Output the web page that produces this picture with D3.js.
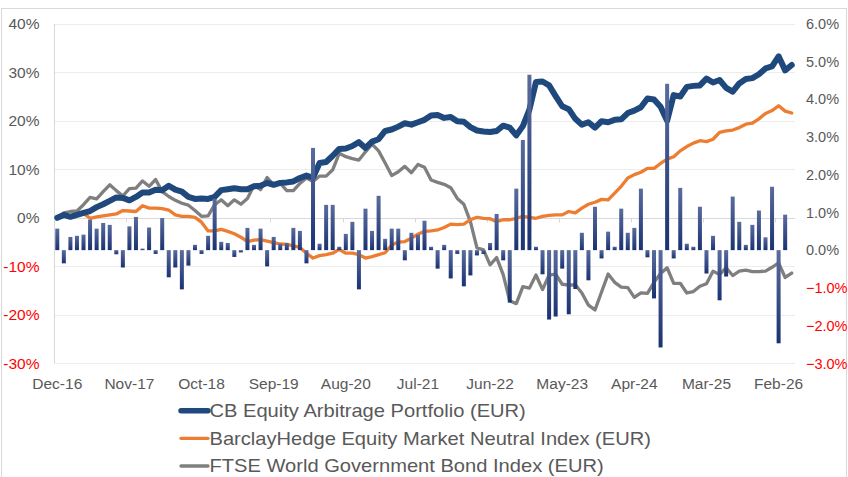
<!DOCTYPE html>
<html><head><meta charset="utf-8">
<script src="https://cdn.jsdelivr.net/npm/d3@7"></script>
<style>body{margin:0;background:#fff}svg{display:block}text{font-family:"Liberation Sans",Arial,sans-serif}</style>
</head><body><svg id="c" width="848" height="477"></svg>
<script>
const tickLabels = ["Dec-16","Nov-17","Oct-18","Sep-19","Aug-20","Jul-21","Jun-22","May-23","Apr-24","Mar-25","Feb-26"];
const leftTicks = [40,30,20,10,0,-10,-20,-30];
const rightTicks = [6,5,4,3,2,1,0,-1,-2,-3];
const seriesNames = ["CB Equity Arbitrage Portfolio (EUR)","BarclayHedge Equity Market Neutral Index (EUR)","FTSE World Government Bond Index (EUR)"];

// monthly returns of the portfolio, % (right axis)
const monthlyReturns = [0.57,-0.35,0.35,0.38,0.41,0.81,0.57,0.72,0.67,-0.11,-0.46,0.63,0.88,0.04,0.60,-0.10,0.85,-0.72,-0.46,-1.04,
-0.41,0.14,-0.10,0.38,1.36,0.22,0.19,-0.18,-0.06,0.59,0.14,0.57,-0.43,0.35,0.17,0.19,0.59,0.51,-0.35,2.71,
0.17,1.20,1.20,0.09,0.43,0.75,-1.04,1.10,0.51,1.44,0.30,0.57,0.57,-0.27,0.46,0.41,0.78,0.09,-0.49,0.14,
-0.75,-0.10,-0.96,-0.67,-0.14,-0.10,0.19,0.96,-0.27,-1.39,1.63,2.92,4.65,0.09,-0.64,-1.84,-1.76,-0.49,-1.70,-1.03,
0.46,-0.80,1.15,-0.22,0.49,0.09,1.10,0.46,0.59,1.63,-0.19,-1.28,-2.58,4.41,-0.22,1.65,0.17,0.09,1.15,-0.62,
0.38,-1.33,-0.70,1.42,0.75,0.14,0.67,1.05,0.34,1.68,-2.47,0.94];

// cumulative performance, % (left axis)
const cbPortfolio = [0,0.6,0.2,0.6,1.0,1.4,2.2,2.8,3.5,4.2,4.1,3.6,4.3,5.2,5.2,5.8,5.7,6.6,5.8,5.4,
4.3,3.9,4.0,3.9,4.3,5.7,5.9,6.1,5.9,5.9,6.5,6.6,7.2,6.8,7.2,7.3,7.5,8.2,8.7,8.3,
11.3,11.5,12.8,14.2,14.3,14.8,15.6,14.4,15.7,16.2,17.9,18.2,18.8,19.5,19.2,19.7,20.2,21.1,21.2,20.6,
20.8,19.9,19.8,18.7,18.0,17.8,17.7,17.9,19.0,18.6,17.0,18.9,22.3,28.0,28.1,27.3,25.1,23.0,22.4,20.4,
19.2,19.7,18.6,19.9,19.7,20.2,20.3,21.6,22.1,22.8,24.6,24.4,22.9,20.0,25.3,25.0,27.0,27.2,27.3,28.7,
27.9,28.4,26.8,26.0,27.7,28.6,28.8,29.6,30.8,31.2,33.3,30.4,31.5];

const barclayHedge = [0,0.3,0.5,0.6,0.9,-0.1,0.2,0.4,0.6,0.8,1.5,1.4,1.3,2.5,2.0,2.0,1.9,1.6,0.6,0.3,
0.3,0.1,-0.9,-2.7,-2.7,-2.4,-2.8,-3.3,-4.0,-4.9,-4.6,-4.5,-4.8,-5.1,-5.4,-5.5,-5.8,-6.1,-7.3,-8.3,
-7.8,-7.6,-7.3,-6.5,-7.3,-7.3,-7.6,-8.3,-8.0,-7.6,-7.2,-5.6,-5.0,-4.9,-4.2,-3.4,-2.8,-2.7,-2.5,-2.0,
-1.3,-1.4,-1.3,-0.4,0.1,-0.1,-0.2,-0.8,-0.4,-0.4,-0.1,0.3,0.1,-0.1,0.3,0.5,0.6,0.6,1.3,1.0,
2.0,2.8,3.2,3.8,3.7,5.1,6.5,8.2,8.9,9.4,10.2,10.2,11.2,12.1,12.6,13.8,14.7,15.4,15.9,15.7,
16.2,17.6,17.9,18.1,18.6,19.3,19.5,20.4,21.5,22.1,23.1,22.0,21.6];

const ftseWGBI = [0,1.0,1.3,1.4,2.7,4.2,3.9,5.4,6.8,5.6,4.5,6.0,6.1,7.6,6.5,7.9,5.4,4.4,3.6,3.0,
2.6,1.5,0.3,0.4,2.7,3.7,2.5,3.7,2.8,4.0,6.7,5.8,8.3,6.8,7.1,5.6,5.6,7.1,8.2,7.5,
8.6,8.6,9.9,13.3,12.6,12.2,11.9,13.6,15.2,13.8,11.3,8.7,9.5,10.6,9.3,11.0,10.4,7.8,7.3,6.9,
6.2,4.0,2.8,-0.8,-6.2,-6.6,-9.7,-8.2,-11.7,-17.1,-17.7,-14.2,-14.5,-11.8,-14.8,-11.8,-11.6,-13.7,-13.9,-13.8,
-15.5,-18.0,-19.0,-15.3,-11.6,-13.3,-14.3,-14.4,-16.4,-15.5,-15.6,-13.3,-11.5,-10.3,-13.5,-13.5,-15.5,-15.2,-14.1,-13.6,
-11.0,-11.7,-10.3,-11.9,-11.0,-10.8,-11.1,-11.1,-11.0,-10.2,-9.3,-12.3,-11.4];

const months = d3.timeMonth.range(new Date(2016,11,1), new Date(2026,4,1));
const fmtMonth = d3.timeFormat("%b-%y");
const categories = months.map(fmtMonth);

const svg = d3.select("#c");
const plot = {left:54, right:795, top:23.8, bottom:363.3};
const x = d3.scaleBand().domain(categories).range([plot.left, plot.right]).padding(0);
const yL = d3.scaleLinear().domain([-30,40]).range([plot.bottom, plot.top]);
const yR = d3.scaleLinear().domain([-3,6]).range([plot.bottom, plot.top]);
const cx = i => x(categories[i]) + x.bandwidth()/2;

const gray = "#595959", red = "#ff0000";

// chart frame
svg.append("rect").attr("x",1.5).attr("y",8.5).attr("width",845).attr("height",480)
  .attr("fill","#fff").attr("stroke","#d9d9d9").attr("stroke-width",1);

// gradient for bars
const defs = svg.append("defs");
const grad = defs.append("linearGradient").attr("id","barGrad").attr("x1",0).attr("y1",0).attr("x2",0).attr("y2",1);
grad.append("stop").attr("offset","0%").attr("stop-color","#5a6c9e");
grad.append("stop").attr("offset","100%").attr("stop-color","#1a3272");

// gridlines
svg.append("g").selectAll("line").data(leftTicks.filter(d=>d!==0)).join("line")
  .attr("x1",plot.left).attr("x2",plot.right)
  .attr("y1",d=>Math.round(yL(d))+0.5).attr("y2",d=>Math.round(yL(d))+0.5)
  .attr("stroke","#ececec").attr("stroke-width",1);

// left axis line
svg.append("line").attr("x1",plot.left+0.5).attr("x2",plot.left+0.5)
  .attr("y1",plot.top).attr("y2",plot.bottom).attr("stroke","#d9d9d9");

// category axis at 0 with ticks
const y0 = Math.round(yL(0))+0.5;
svg.append("line").attr("x1",plot.left).attr("x2",plot.right).attr("y1",y0).attr("y2",y0)
  .attr("stroke","#d9d9d9").attr("stroke-width",1.2);
const tickIdx = categories.map((c,i)=>i).filter(i=>tickLabels.includes(categories[i]));
svg.append("g").selectAll("line").data(tickIdx.filter(i=>i>0)).join("line")
  .attr("x1",i=>Math.round(plot.left + x.step()*i)+0.5).attr("x2",i=>Math.round(plot.left + x.step()*i)+0.5)
  .attr("y1",y0).attr("y2",y0+4).attr("stroke","#d9d9d9");

// lines
const line = d3.line().x((d,i)=>cx(i)).y(d=>yL(d)).curve(d3.curveLinear);
svg.append("path").datum(ftseWGBI).attr("d",line).attr("fill","none")
  .attr("stroke","#7f7f7f").attr("stroke-width",3.3).attr("stroke-linejoin","round").attr("stroke-linecap","round");
svg.append("path").datum(barclayHedge).attr("d",line).attr("fill","none")
  .attr("stroke","#ed7d31").attr("stroke-width",3.3).attr("stroke-linejoin","round").attr("stroke-linecap","round");
svg.append("path").datum(cbPortfolio).attr("d",line).attr("fill","none")
  .attr("stroke","#1f497d").attr("stroke-width",6).attr("stroke-linejoin","round").attr("stroke-linecap","round");

// bars (secondary axis)
const bw = 4;
svg.append("g").selectAll("rect").data(monthlyReturns).join("rect")
  .attr("x",(d,i)=>cx(i)-bw/2)
  .attr("y",d=>Math.min(yR(d),yR(0)))
  .attr("width",bw)
  .attr("height",d=>Math.abs(yR(d)-yR(0)))
  .attr("fill","url(#barGrad)");

// axis labels
const fs = 15.5;
svg.append("g").selectAll("text").data(leftTicks).join("text")
  .attr("x",39.5).attr("y",d=>yL(d)).attr("dy","0.36em")
  .attr("text-anchor","end").attr("font-size",fs)
  .attr("fill",d=>d<0?red:gray).text(d=>d+"%");
svg.append("g").selectAll("text").data(rightTicks).join("text")
  .attr("x",806).attr("y",d=>yR(d)).attr("dy","0.36em")
  .attr("text-anchor","start").attr("font-size",14.5)
  .attr("fill",d=>d<0?red:gray).text(d=>d3.format(".1%")(d/100));
svg.append("g").selectAll("text").data(tickIdx).join("text")
  .attr("x",i=>cx(i)).attr("y",388.5)
  .attr("text-anchor","middle").attr("font-size",fs)
  .attr("fill",gray).text(i=>categories[i]);

// legend
const legendStyle = [{c:"#1f497d",w:5.5},{c:"#ed7d31",w:3.3},{c:"#7f7f7f",w:3.3}];
const legendY = [410.7,438.3,466];
const lg = svg.append("g");
seriesNames.forEach((name,k)=>{
  lg.append("line").attr("x1",181).attr("x2",208).attr("y1",legendY[k]).attr("y2",legendY[k])
    .attr("stroke",legendStyle[k].c).attr("stroke-width",legendStyle[k].w).attr("stroke-linecap","round");
  lg.append("text").attr("transform",`translate(209.5,${legendY[k]+6.3}) scale(1.15,1)`)
    .attr("font-size",17.5).attr("fill",gray).text(name);
});
</script></body></html>
